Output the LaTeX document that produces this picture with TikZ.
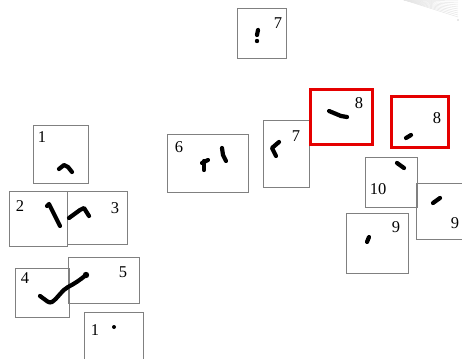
\documentclass[tikz,border=0pt]{standalone}
\usepackage{fontspec}
\setmainfont{Liberation Serif}
\begin{document}
\begin{tikzpicture}[x=1pt,y=-1pt,
  box/.style={draw=black!50,line width=1pt,inner sep=0pt,anchor=north west},
  redbox/.style={draw=red!90!black,line width=3pt,inner sep=0pt,anchor=north west},
  lbl/.style={inner sep=0pt,font=\fontsize{16.5}{19}\selectfont},
  ink/.style={line width=4.2pt,line cap=round,line join=round},
  faint/.style={draw=black!10,line width=0.5pt}]
\useasboundingbox (0,0) rectangle (462,358);
\clip (0,0) rectangle (462,358);
% faint fan at top right
\coordinate (fanA) at (404,0);
\foreach \yy in {1,3,5,7,9,11,13,15,17}{
  \draw[faint] (fanA) -- (458,\yy);
}
\fill[black!12] (458,20) circle (1.2);
% boxes
\node[box,minimum width=55pt,minimum height=58pt] (b1) at (33,125) {};
\node[box,minimum width=58pt,minimum height=55pt] (b2) at (9,191) {};
\node[box,minimum width=60pt,minimum height=53pt] (b3) at (67,191) {};
\node[box,minimum width=54pt,minimum height=49pt] (b4) at (15,268) {};
\node[box,minimum width=71pt,minimum height=46pt] (b5) at (68,257) {};
\node[box,minimum width=59pt,minimum height=60pt] (b1b) at (84,312) {};
\node[box,minimum width=49pt,minimum height=50pt] (b7a) at (237,8) {};
\node[box,minimum width=81pt,minimum height=58pt] (b6) at (167,134) {};
\node[box,minimum width=46pt,minimum height=67pt] (b7b) at (263,120) {};
\node[redbox,minimum width=62pt,minimum height=55pt] (b8a) at (309,88) {};
\node[redbox,minimum width=57pt,minimum height=51pt] (b8b) at (390,95) {};
\node[box,minimum width=52pt,minimum height=50pt] (b10) at (365,157) {};
\node[box,minimum width=60pt,minimum height=56pt] (b9a) at (416,183) {};
\node[box,minimum width=62pt,minimum height=60pt] (b9b) at (346,213) {};
% labels
\node[lbl] (l1) at (42,137) {1};
\node[lbl] (l2) at (20,206) {2};
\node[lbl] (l3) at (115,208) {3};
\node[lbl] (l4) at (25,278) {4};
\node[lbl] (l5) at (123,272) {5};
\node[lbl] (l1b) at (95,330) {1};
\node[lbl] (l7a) at (278,23) {7};
\node[lbl] (l8a) at (359,103) {8};
\node[lbl] (l6) at (179,147) {6};
\node[lbl] (l7b) at (296,136) {7};
\node[lbl] (l8b) at (437,118) {8};
\node[lbl] (l10) at (378,189) {10};
\node[lbl] (l9a) at (455,223) {9};
\node[lbl] (l9b) at (396,227) {9};
% ink strokes
\draw[ink] (59,169) -- (64,165) -- (68,167) -- (72,172);
\draw[ink] (47,206) -- (49,204) -- (60,226);
\draw[ink] (69,218) -- (80,210) -- (84,208) -- (89,216);
\draw[ink] (40,296) .. controls (46,300) and (49,304) .. (52,302) .. controls (58,298) and (62,290) .. (68,287) .. controls (74,284) and (80,280) .. (86,275);
\fill (86,275) circle (3.2);
\fill (114,327) circle (2);
\draw[ink] (258,30) -- (257,35);
\fill (257,41) circle (2.2);
\draw[ink] (329,111) -- (341,116) -- (347,117);
\draw[ink] (202,163) -- (208,160);
\draw[ink] (204,161) -- (204,170);
\draw[ink] (222,148) -- (223,155) -- (226,161);
\draw[ink] (279,142) -- (272,148) -- (276,156);
\draw[ink] (406,138) -- (411,135);
\draw[ink] (397,163) -- (404,168);
\draw[ink] (433,203) -- (440,198);
\draw[ink] (369,237) -- (367,242);
\end{tikzpicture}
\end{document}
